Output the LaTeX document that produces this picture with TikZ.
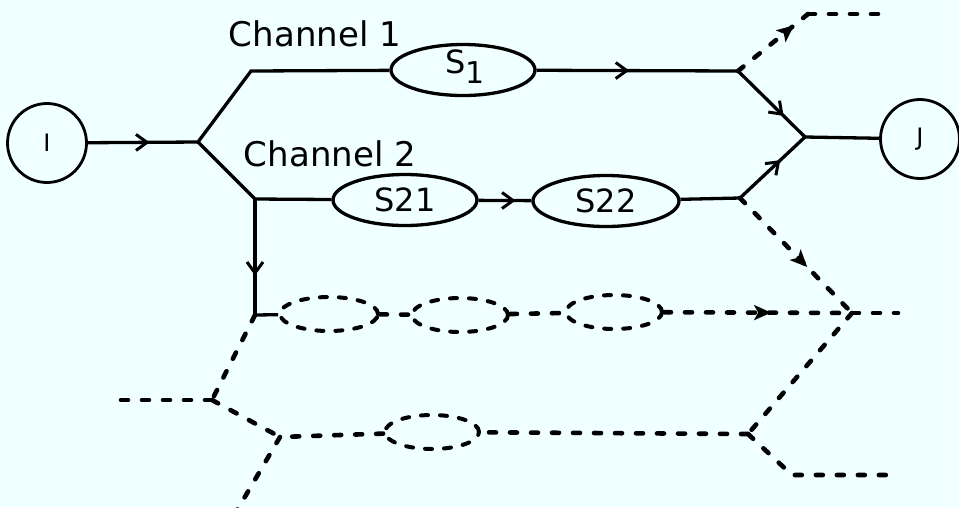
\documentclass[tikz,border=0pt]{standalone}
\usepackage{fontspec}
\setmainfont{DejaVu Sans}
\usetikzlibrary{shapes.geometric,arrows.meta,decorations.markings}
\definecolor{bg}{RGB}{240,255,255}
\begin{document}
\begin{tikzpicture}[x=1pt,y=-1pt,
  ln/.style={line width=3.3pt},
  dl/.style={line width=4.6pt, dash pattern=on 7pt off 14pt, line cap=round},
  sellipse/.style={ellipse, draw, line width=3.3pt, inner sep=0pt, minimum height=51pt},
  dellipse/.style={ellipse, draw, line width=4pt, dash pattern=on 7pt off 12pt, line cap=round, inner sep=0pt, minimum width=96pt, minimum height=34pt},
  circ/.style={circle, draw, line width=2.8pt, inner sep=0pt, minimum size=79pt},
  lbl/.style={font=\fontsize{34}{38}\selectfont},
  stxt/.style={font=\fontsize{32}{36}\selectfont},
  sarrow/.style={postaction={decorate}, decoration={markings, mark=at position #1 with {\arrow{Straight Barb[length=11pt,width=16pt,line width=3pt]}}}},
  darrow/.style={postaction={decorate}, decoration={markings, mark=at position #1 with {\arrow{Stealth[length=17pt,width=15pt,inset=4pt]}}}}
]
\fill[bg] (0,0) rectangle (959,507);
\useasboundingbox (0,0) rectangle (959,507);

% nodes
\node[circ, font=\fontsize{24}{26}\selectfont] (I) at (47,143) {I};
\node[circ, font=\fontsize{24}{26}\selectfont] (J) at (920,139) {J};
\node[sellipse, minimum width=144pt] (S1) at (463,70) {};
\node[stxt] (S1t) at (465,67) {S\raisebox{-10pt}{\fontsize{30}{30}\selectfont 1}};
\node[sellipse, minimum width=144pt, stxt] (S21) at (405,200) {S21};
\node[sellipse, minimum width=146pt, stxt] (S22) at (606,201) {S22};
\node[dellipse, minimum width=98pt] (E1) at (329,314) {};
\node[dellipse] (E2) at (460,315) {};
\node[dellipse] (E3) at (614,312) {};
\node[dellipse, minimum width=94pt] (E4) at (432,432) {};
\node[lbl] (ch1) at (315,34) {Channel 1};
\node[lbl] (ch2) at (330,154) {Channel 2};

% junction coordinates
\coordinate (jI) at (198,142);
\coordinate (a1) at (251,71);
\coordinate (b1) at (738,71);
\coordinate (jJ) at (805,137);
\coordinate (u1) at (808,14);
\coordinate (u2) at (892,14);
\coordinate (a2) at (255,199);
\coordinate (b2) at (740,198);
\coordinate (c1) at (255,315);
\coordinate (jD) at (852,313);
\coordinate (e1) at (898,313);
\coordinate (f1) at (748,434);
\coordinate (f2) at (792,475);
\coordinate (f3) at (892,475);
\coordinate (g1) at (280,437);
\coordinate (h1) at (212,400);
\coordinate (h0) at (110,400);
\coordinate (k1) at (236,512);

% solid connectors
\draw[ln, sarrow=0.56] (I) -- (jI);
\draw[ln] (jI) -- (a1) -- (S1);
\draw[ln, sarrow=0.46] (S1) -- (b1);
\draw[ln, sarrow=0.68] (b1) -- (jJ);
\draw[ln] (jJ) -- (J);
\draw[ln] (jI) -- (a2) -- (S21);
\draw[ln, sarrow=0.70] (S21) -- (S22);
\draw[ln] (S22) -- (b2);
\draw[ln, sarrow=0.62] (b2) -- (jJ);
\draw[ln, sarrow=0.66] (a2) -- (c1);
\draw[ln] (c1) -- (E1);

% dashed connectors
\draw[dl, darrow=0.8] (b1) -- (u1);
\draw[dl] (u1) -- (u2);
\draw[dl, darrow=0.6] (b2) -- (jD);
\draw[dl] (E1) -- (E2);
\draw[dl] (E2) -- (E3);
\draw[dl, darrow=0.57] (E3) -- (jD);
\draw[dl] (jD) -- (e1);
\draw[dl] (jD) -- (f1);
\draw[dl] (f1) -- (f2) -- (f3);
\draw[dl] (f1) -- (E4);
\draw[dl] (E4) -- (g1);
\draw[dl] (c1) -- (h1);
\draw[dl] (h1) -- (h0);
\draw[dl] (h1) -- (g1);
\draw[dl] (g1) -- (k1);
\end{tikzpicture}
\end{document}
